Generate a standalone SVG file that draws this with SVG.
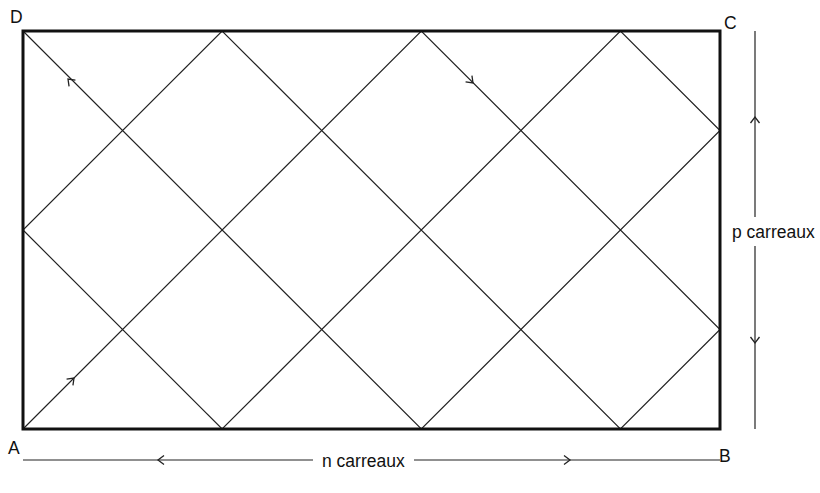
<svg xmlns="http://www.w3.org/2000/svg" width="820" height="493" viewBox="0 0 820 493">
<style>
.thin{fill:none;stroke:#222;stroke-width:1.2}
.chev{fill:none;stroke:#222;stroke-width:1.3}
.frame{fill:none;stroke:#111;stroke-width:3}
.lbl{font-family:"Liberation Sans",Arial,sans-serif;font-size:17.5px;fill:#111}
</style>
<defs>
<path id="chev" class="chev" d="M-6,-4.5 L0,0 L-6,4.5"/>
</defs>
<rect width="820" height="493" fill="#fff"/>
<g id="connectors">
<polyline id="path" class="thin" points="23,429 421.3,31 720,329.5 620.4,429 222.1,31 23,230 222.1,429 620.4,31 720,130.5 421.3,429 23,31"/>
<use href="#chev" transform="translate(74,378) rotate(-45)"/>
<use href="#chev" transform="translate(68,79) rotate(-135)"/>
<use href="#chev" transform="translate(473,83) rotate(45)"/>
<line class="thin" x1="755" y1="31" x2="755" y2="217"/>
<line class="thin" x1="755" y1="246" x2="755" y2="429"/>
<use href="#chev" transform="translate(755,117) rotate(-90)"/>
<use href="#chev" transform="translate(755,343) rotate(90)"/>
<line class="thin" x1="23" y1="460" x2="313" y2="460"/>
<line class="thin" x1="414" y1="460" x2="720" y2="460"/>
<use href="#chev" transform="translate(158,460) rotate(180)"/>
<use href="#chev" transform="translate(570,460)"/>
</g>
<g id="rectangle">
<rect class="frame" x="23" y="31" width="697" height="398"/>
</g>
<g id="labels">
<text class="lbl" x="10" y="23">D</text>
<text class="lbl" x="724" y="29">C</text>
<text class="lbl" x="8" y="454">A</text>
<text class="lbl" x="719" y="462">B</text>
<text class="lbl" x="732" y="238">p carreaux</text>
<text class="lbl" x="322" y="467">n carreaux</text>
</g>
</svg>
